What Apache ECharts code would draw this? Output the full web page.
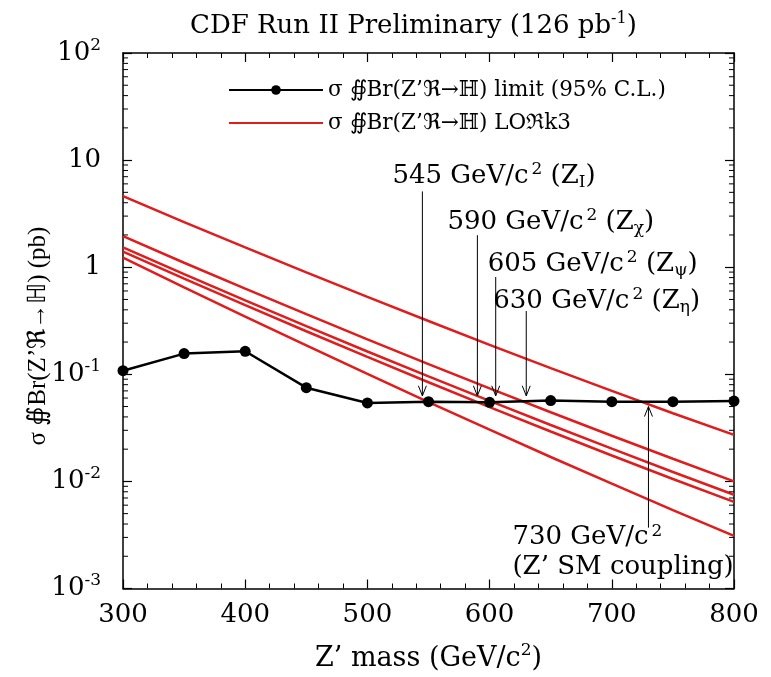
<!DOCTYPE html>
<html><head><meta charset="utf-8">
<script src="https://cdn.jsdelivr.net/npm/echarts@6/dist/echarts.min.js"></script>
<style>html,body{margin:0;padding:0;background:#fff}#c{width:771px;height:677px}</style>
</head><body><div id="c"></div>
<script>
// ---------- data ----------
const masses = [300, 350, 400, 450, 500, 550, 600, 650, 700, 750, 800];
const limitValues = [0.108, 0.156, 0.164, 0.075, 0.054, 0.0555, 0.0548, 0.0568, 0.0555, 0.0555, 0.0562];
const loMasses = [300, 350, 400, 450, 500, 550, 600, 650, 700, 750, 800];
const loSM    = [4.6, 2.64, 1.53, 0.895, 0.528, 0.3145, 0.1885, 0.1143, 0.070, 0.0433, 0.0272];
const loEta   = [1.95, 1.10, 0.631, 0.364, 0.212, 0.1245, 0.0738, 0.0442, 0.0267, 0.01626, 0.0100];
const loPsi   = [1.53, 0.863, 0.4906, 0.2816, 0.1632, 0.0955, 0.0564, 0.0336, 0.0202, 0.01225, 0.0075];
const loChi   = [1.40, 0.783, 0.4428, 0.2522, 0.1453, 0.0843, 0.0494, 0.02925, 0.01745, 0.01053, 0.00644];
const loI     = [1.23, 0.649, 0.345, 0.186, 0.1007, 0.0550, 0.0304, 0.0169, 0.00953, 0.0054, 0.0031];

const xTicks = [300, 400, 500, 600, 700, 800];
const yTicks = [0.001, 0.01, 0.1, 1, 10, 100];
const yTickBase = ['10', '10', '10', '1', '10', '10'];
const yTickExp  = ['-3', '-2', '-1', '', '', '2'];
const yMinorMantissa = [2, 3, 4, 5, 6, 7, 8, 9];

// annotations (mass, arrow start value, arrow tip value)
const annMass = [545, 590, 605, 630, 730];
const annFrom = [5.1, 1.99, 0.81, 0.39, 0.0037];
const annTo   = [0.063, 0.063, 0.063, 0.063, 0.050];
const annMain = ['545 GeV/c', '590 GeV/c', '605 GeV/c', '630 GeV/c', '730 GeV/c'];
const annSub  = ['I', 'χ', 'ψ', 'η', ''];
const annExtra = ['', '', '', '', '(Z’ SM coupling)'];

const titleText = 'CDF Run II Preliminary (126 pb';
const limitName = 'σ ∯Br(Z’ℜ→ℍ) limit (95% C.L.)';
const loName = 'σ ∯Br(Z’ℜ→ℍ) LOℜk3';
const yTitle = 'σ ∯Br(Z’ℜ→ℍ) (pb)';
const xTitle = 'Z’ mass (GeV/c';

// ---------- styling ----------
const SERIF = '"DejaVu Serif", "Liberation Serif", serif';
const RED = '#e01c1c';
const annOffsets = [[-30, -15], [-30, -13], [-8, -13], [-33, -10], [-136, 25]];

const yMinor = [];
yTicks.slice(0, -1).forEach(d => yMinorMantissa.forEach(m => yMinor.push(+(m * d).toPrecision(3))));

const supRich = {
  n: {fontFamily: SERIF, fontSize: 26, lineHeight: 30, color: '#000'},
  sup: {fontFamily: SERIF, fontSize: 17, lineHeight: 17, verticalAlign: 'top', color: '#000', padding: [0, 0, 0, 3]},
  sub: {fontFamily: SERIF, fontSize: 17, lineHeight: 17, verticalAlign: 'bottom', color: '#000'}
};

const chart = echarts.init(document.getElementById('c'), null, {renderer: 'canvas'});

function pair(xs, ys) { return xs.map((x, i) => [x, ys[i]]); }
const redSeries = [loSM, loEta, loPsi, loChi, loI].map(arr => ({
  name: loName, type: 'line', data: pair(loMasses, arr), symbol: 'none', showSymbol: false,
  lineStyle: {color: RED, width: 2.5}, itemStyle: {color: RED}, z: 3, silent: true
}));

const option = {
  animation: false,
  backgroundColor: '#fff',
  title: {
    text: '{n|' + titleText + '}{sup|-1}{n|)}',
    left: 185, top: 6,
    textStyle: {fontWeight: 'normal', rich: {
      n: {fontFamily: SERIF, fontSize: 26, fontWeight: 'normal', lineHeight: 30, color: '#000'},
      sup: {fontFamily: SERIF, fontSize: 16, fontWeight: 'normal', lineHeight: 16, verticalAlign: 'top', color: '#000'}
    }}
  },
  legend: {
    data: [
      {name: limitName},
      {name: loName, itemStyle: {opacity: 0}}
    ],
    orient: 'vertical', left: 228, top: 79, padding: 0,
    itemWidth: 94, itemHeight: 12, itemGap: 11,
    textStyle: {fontFamily: SERIF, fontSize: 21.5, color: '#000'}
  },
  grid: {left: 123, right: 37, top: 53, bottom: 86, containLabel: false},
  xAxis: [{
    type: 'value', min: 300, max: 800, interval: 100, position: 'bottom',
    axisLine: {lineStyle: {color: '#000', width: 1.5}},
    axisTick: {inside: true, length: 9, lineStyle: {color: '#000', width: 1.2}},
    minorTick: {show: true, splitNumber: 5, length: 5, lineStyle: {color: '#000', width: 1}},
    splitLine: {show: false},
    axisLabel: {fontFamily: SERIF, fontSize: 26, color: '#000', margin: 14,
      formatter: v => (xTicks.indexOf(v) >= 0 ? String(v) : '')},
    name: '{n|' + xTitle + '}{sup|2}{n|)}', nameLocation: 'middle', nameGap: 54,
    nameTextStyle: {rich: {
      n: {fontFamily: SERIF, fontSize: 27, lineHeight: 32, color: '#000'},
      sup: {fontFamily: SERIF, fontSize: 17, lineHeight: 17, verticalAlign: 'top', color: '#000'}
    }}
  }, {
    type: 'value', min: 300, max: 800, interval: 100, position: 'top',
    axisLine: {lineStyle: {color: '#000', width: 1.5}},
    axisTick: {inside: true, length: 9, lineStyle: {color: '#000', width: 1.2}},
    minorTick: {show: true, splitNumber: 5, length: 5, lineStyle: {color: '#000', width: 1}},
    splitLine: {show: false}, axisLabel: {show: false}
  }],
  yAxis: [{
    type: 'log', logBase: 10, min: 0.001, max: 100, position: 'left',
    axisLine: {show: true, lineStyle: {color: '#000', width: 1.5}},
    axisTick: {show: true, inside: true, length: 9, lineStyle: {color: '#000', width: 1.2}},
    splitLine: {show: false},
    axisLabel: {
      margin: 22, align: 'right',
      formatter: v => {
        const i = yTicks.findIndex(t => Math.abs(Math.log10(t) - Math.log10(v)) < 1e-6);
        if (i < 0) return '';
        return '{b|' + yTickBase[i] + '}' + (yTickExp[i] ? '{s|' + yTickExp[i] + '}' : '');
      },
      rich: {
        b: {fontFamily: SERIF, fontSize: 26, lineHeight: 32, color: '#000'},
        s: {fontFamily: SERIF, fontSize: 17, lineHeight: 17, verticalAlign: 'top', color: '#000'}
      }
    }
  }, {
    type: 'log', logBase: 10, min: 0.001, max: 100, position: 'right',
    axisLine: {show: true, lineStyle: {color: '#000', width: 1.5}},
    axisTick: {show: true, inside: true, length: 9, lineStyle: {color: '#000', width: 1.2}},
    splitLine: {show: false}, axisLabel: {show: false}
  }],
  graphic: [{
    type: 'text', x: 38, y: 336, rotation: Math.PI / 2,
    style: {text: yTitle, font: '25px "Liberation Serif", serif', fill: '#000', align: 'center', verticalAlign: 'middle'}
  }],
  series: [
    ...redSeries,
    {
      name: limitName, type: 'line', data: pair(masses, limitValues),
      symbol: 'circle', symbolSize: 11,
      lineStyle: {color: '#000', width: 2.5}, itemStyle: {color: '#000'}, z: 4, silent: true
    },
    {
      type: 'custom', coordinateSystem: 'cartesian2d', silent: true, z: 5,
      data: yMinor.map(v => [300, v]),
      renderItem: (params, api) => {
        const cs = params.coordSys;
        const y = api.coord([300, api.value(1)])[1];
        const st = {stroke: '#000', lineWidth: 1};
        return {type: 'group', children: [
          {type: 'line', shape: {x1: cs.x, y1: y, x2: cs.x + 5, y2: y}, style: st},
          {type: 'line', shape: {x1: cs.x + cs.width - 5, y1: y, x2: cs.x + cs.width, y2: y}, style: st}
        ]};
      }
    },
    {
      type: 'custom', coordinateSystem: 'cartesian2d', silent: true, z: 6, clip: false,
      data: annMass.map((m, i) => [m, annFrom[i], annTo[i]]),
      renderItem: (params, api) => {
        const i = params.dataIndex;
        const p0 = api.coord([api.value(0), api.value(1)]);
        const p1 = api.coord([api.value(0), api.value(2)]);
        const dir = p1[1] > p0[1] ? 1 : -1;
        const ah = 10, aw = 4;
        let txt = '{n|' + annMain[i] + '}{sup|2}';
        if (annSub[i]) txt += '{n| (Z}{sub|' + annSub[i] + '}{n|)}';
        if (annExtra[i]) txt += '\n{n|' + annExtra[i] + '}';
        return {type: 'group', children: [
          {type: 'line', shape: {x1: p0[0], y1: p0[1], x2: p1[0], y2: p1[1]}, style: {stroke: '#000', lineWidth: 1}},
          {type: 'polyline', shape: {points: [[p1[0] - aw, p1[1] - dir * ah], [p1[0], p1[1]], [p1[0] + aw, p1[1] - dir * ah]]},
            style: {stroke: '#000', fill: null, lineWidth: 1}},
          {type: 'text', x: p0[0] + annOffsets[i][0], y: p0[1] + annOffsets[i][1],
            style: {text: txt, rich: supRich, align: 'left', verticalAlign: 'middle', fill: '#000'}}
        ]};
      }
    }
  ]
};
chart.setOption(option);
</script>
</body></html>
